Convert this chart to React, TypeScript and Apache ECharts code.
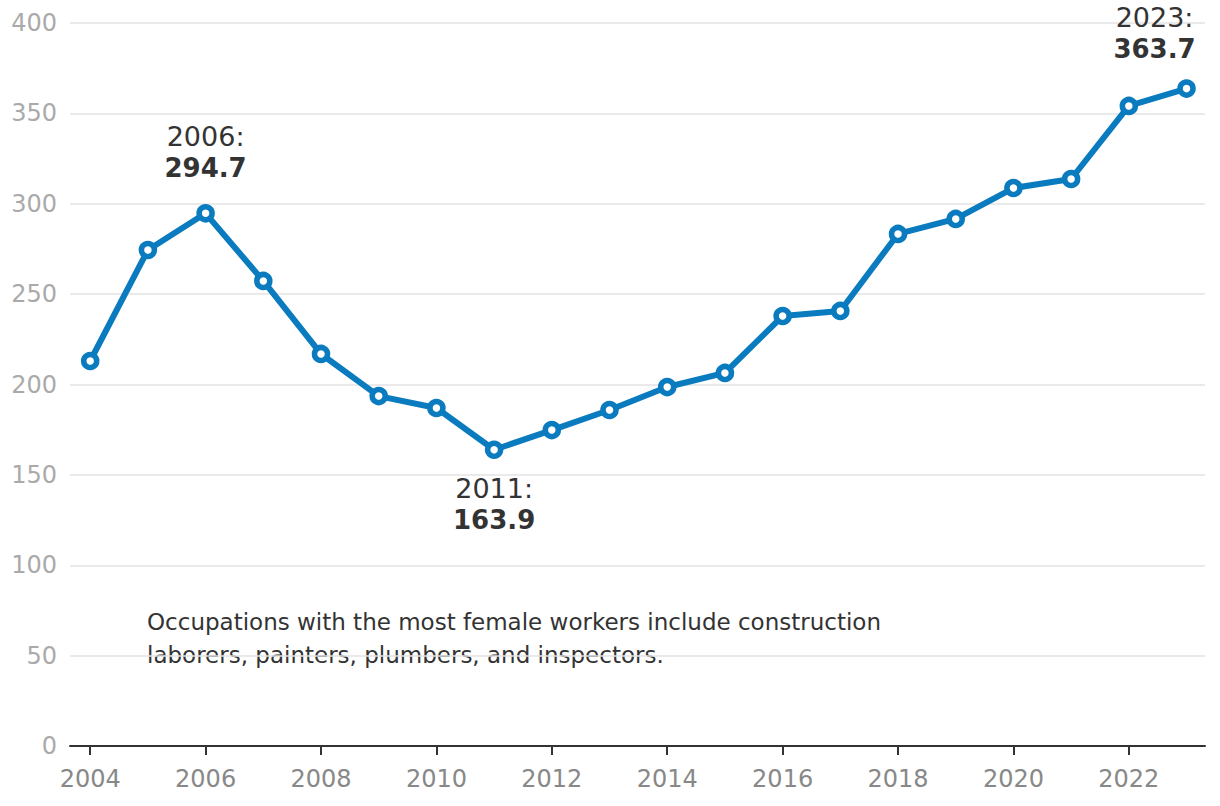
import React, { useEffect, useRef } from "react";
import * as echarts from "echarts";

const years = [2004, 2005, 2006, 2007, 2008, 2009, 2010, 2011, 2012, 2013, 2014, 2015, 2016, 2017, 2018, 2019, 2020, 2021, 2022, 2023];
const values = [213.0, 274.4, 294.7, 257.3, 216.9, 193.6, 187.0, 163.9, 174.8, 185.9, 198.6, 206.4, 237.9, 240.7, 283.3, 291.6, 308.7, 313.7, 354.1, 363.7];
const xTickYears = [2004, 2006, 2008, 2010, 2012, 2014, 2016, 2018, 2020, 2022];
const yTicks = [0, 50, 100, 150, 200, 250, 300, 350, 400];
const highlights: Record<number, { pos: string; offset: number[]; distance: number }> = {
  2006: { pos: "top", offset: [0, 0], distance: 20 },
  2011: { pos: "bottom", offset: [0, 0], distance: 13 },
  2023: { pos: "top", offset: [-32, 0], distance: 14 },
};
const note = "Occupations with the most female workers include construction\nlaborers, painters, plumbers, and inspectors.";

const BLUE = "#0a7bbf";
const FONT = "'DejaVu Sans', 'Liberation Sans', sans-serif";

export default function App() {
  const ref = useRef<HTMLDivElement>(null);
  useEffect(() => {
    if (!ref.current) return;
    const chart = echarts.init(ref.current, undefined, { renderer: "svg" });
    const data = years.map((y, i) => {
      const h = highlights[y];
      const item: any = { value: [y, values[i]] };
      if (h) {
        item.label = {
          show: true,
          position: h.pos,
          distance: h.distance,
          offset: h.offset,
          formatter: `{a|${y}:}\n{b|${values[i].toFixed(1)}}`,
          rich: {
            a: { fontFamily: FONT, fontSize: 27, color: "#333", lineHeight: 32, align: "center" },
            b: { fontFamily: FONT, fontSize: 26, fontWeight: "bold", color: "#333", lineHeight: 32, align: "center" },
          },
        };
      }
      return item;
    });
    chart.setOption({
      animation: false,
      backgroundColor: "#fff",
      grid: { left: 70, right: 15, top: 23, bottom: 60, containLabel: false },
      xAxis: {
        type: "value",
        min: 2003.65,
        max: 2023.32,
        splitLine: { show: false },
        axisLine: { show: true, lineStyle: { color: "#333", width: 2 } },
        axisTick: { show: true, customValues: xTickYears, length: 9, lineStyle: { color: "#333", width: 2 } },
        axisLabel: {
          customValues: xTickYears,
          fontFamily: FONT,
          fontSize: 24,
          color: "#888",
          margin: 21,
          formatter: (v: number) => String(v),
        },
      },
      yAxis: {
        type: "value",
        min: 0,
        max: 400,
        interval: 50,
        axisLine: { show: false },
        axisTick: { show: false },
        splitLine: { lineStyle: { color: "#e3e3e3", width: 1.5 } },
        axisLabel: {
          fontFamily: FONT,
          fontSize: 24,
          color: "#aaa",
          margin: 13,
          formatter: (v: number) => (yTicks.includes(v) ? String(v) : ""),
        },
      },
      series: [
        {
          type: "line",
          data,
          lineStyle: { color: BLUE, width: 6 },
          symbol: "circle",
          symbolSize: 13,
          itemStyle: { color: "#fff", borderColor: BLUE, borderWidth: 5.5 },
          z: 3,
        },
      ],
      graphic: [
        {
          type: "text",
          left: 147,
          top: 605,
          style: {
            text: note,
            fontFamily: FONT,
            fontSize: 23,
            lineHeight: 33,
            fill: "#333",
          },
        },
      ],
    });
    return () => chart.dispose();
  }, []);
  return <div ref={ref} style={{ width: 1220, height: 806, position: "absolute", left: 0, top: 0 }} />;
}
